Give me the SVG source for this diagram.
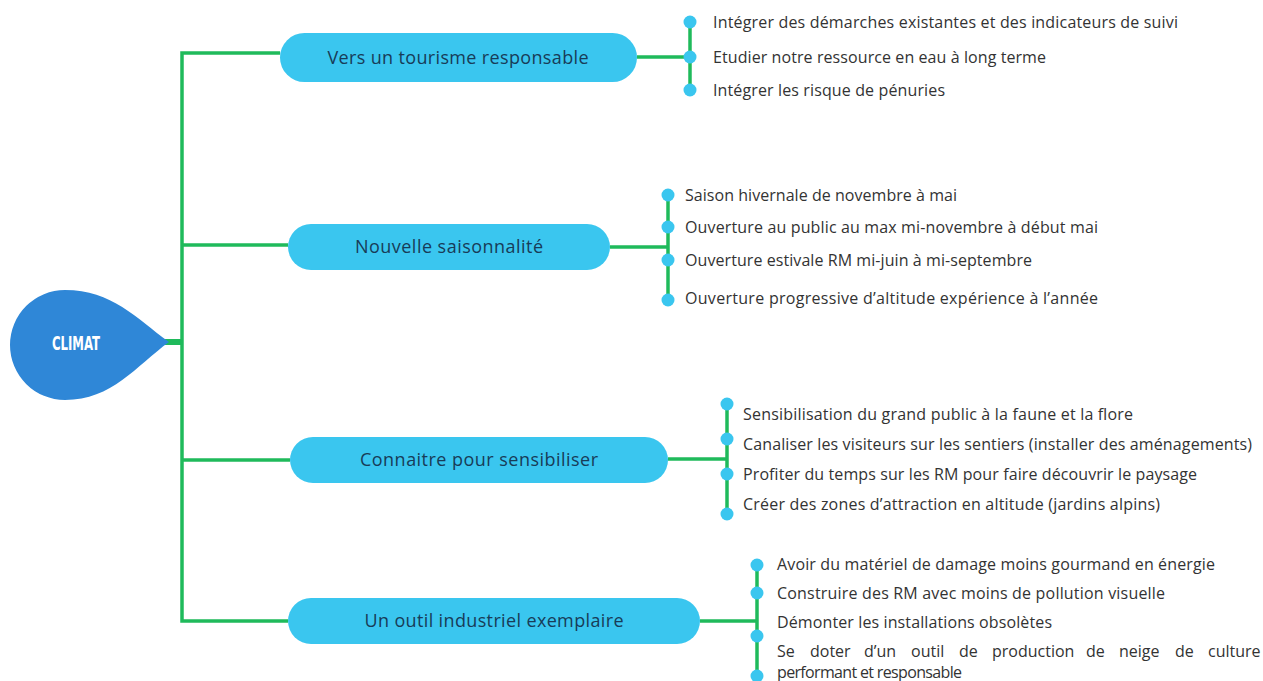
<svg xmlns="http://www.w3.org/2000/svg" width="1263" height="681" viewBox="0 0 1263 681">
<style>
.ln{stroke:#1fba5b;stroke-width:3.5;fill:none;stroke-linecap:butt}
.pill{fill:#3ac6ef}
.ptx{font-family:"Open Sans","Liberation Sans",sans-serif;font-size:18px;fill:#183c58;text-anchor:middle}
.dot{fill:#3ac6ef}
.lt{font-family:"Open Sans","Liberation Sans",sans-serif;font-size:16px;fill:#333}
</style>
<rect width="1263" height="681" fill="#fff"/>
<g id="connectors">
<line class="ln" x1="164" y1="342" x2="183" y2="342" style="stroke-width:6"/>
<polyline class="ln" points="280,53 182,53 182,621 288,621"/>
<line class="ln" x1="182" y1="245" x2="288" y2="245"/>
<line class="ln" x1="182" y1="460" x2="290" y2="460"/>
<line class="ln" x1="637" y1="57" x2="690" y2="57"/>
<line class="ln" x1="690" y1="22" x2="690" y2="90"/>
<line class="ln" x1="610" y1="247" x2="668" y2="247"/>
<line class="ln" x1="668" y1="195" x2="668" y2="300"/>
<line class="ln" x1="668" y1="459" x2="727" y2="459"/>
<line class="ln" x1="727" y1="404" x2="727" y2="514"/>
<line class="ln" x1="700" y1="621" x2="757" y2="621"/>
<line class="ln" x1="757" y1="565" x2="757" y2="676"/>
</g>
<g id="climat">
<path d="M169,342 C136,318 112,290 65,290 A55,55 0 0 0 65,400 C112,400 136,366 169,342 Z" fill="#2f87d7"/>
<text x="76" y="350" font-family="'DejaVu Sans Condensed','DejaVu Sans',sans-serif" font-weight="bold" font-size="20" fill="#fff" text-anchor="middle" textLength="48" lengthAdjust="spacingAndGlyphs">CLIMAT</text>
</g>
<g id="n1">
<rect class="pill" x="280" y="33" width="357" height="49" rx="24.5"/>
<text class="ptx" x="458" y="64" textLength="261">Vers un tourisme responsable</text>
</g>
<g id="n2">
<rect class="pill" x="288" y="224" width="322" height="46" rx="23"/>
<text class="ptx" x="449" y="253" textLength="188">Nouvelle saisonnalité</text>
</g>
<g id="n3">
<rect class="pill" x="290" y="437" width="378" height="46" rx="23"/>
<text class="ptx" x="479" y="466" textLength="238">Connaitre pour sensibiliser</text>
</g>
<g id="n4">
<rect class="pill" x="288" y="598" width="412" height="46" rx="23"/>
<text class="ptx" x="494" y="627" textLength="259">Un outil industriel exemplaire</text>
</g>
<g id="leaves1">
<circle class="dot" cx="690" cy="22" r="6.5"/><circle class="dot" cx="690" cy="57" r="6.5"/><circle class="dot" cx="690" cy="90" r="6.5"/>
<text class="lt" x="713" y="28" textLength="465">Intégrer des démarches existantes et des indicateurs de suivi</text>
<text class="lt" x="713" y="63" textLength="333">Etudier notre ressource en eau à long terme</text>
<text class="lt" x="713" y="96" textLength="232">Intégrer les risque de pénuries</text>
</g>
<g id="leaves2">
<circle class="dot" cx="668" cy="195" r="6.5"/><circle class="dot" cx="668" cy="227" r="6.5"/><circle class="dot" cx="668" cy="260" r="6.5"/><circle class="dot" cx="668" cy="300" r="6.5"/>
<text class="lt" x="685" y="201" textLength="272">Saison hivernale de novembre à mai</text>
<text class="lt" x="685" y="233" textLength="413">Ouverture au public au max mi-novembre à début mai</text>
<text class="lt" x="685" y="266" textLength="347">Ouverture estivale RM mi-juin à mi-septembre</text>
<text class="lt" x="685" y="304" textLength="413">Ouverture progressive d’altitude expérience à l’année</text>
</g>
<g id="leaves3">
<circle class="dot" cx="727" cy="404" r="6.5"/><circle class="dot" cx="727" cy="439" r="6.5"/><circle class="dot" cx="727" cy="474" r="6.5"/><circle class="dot" cx="727" cy="514" r="6.5"/>
<text class="lt" x="743" y="420" textLength="390">Sensibilisation du grand public à la faune et la flore</text>
<text class="lt" x="743" y="450" textLength="509">Canaliser les visiteurs sur les sentiers (installer des aménagements)</text>
<text class="lt" x="743" y="480" textLength="454">Profiter du temps sur les RM pour faire découvrir le paysage</text>
<text class="lt" x="743" y="510" textLength="417">Créer des zones d’attraction en altitude (jardins alpins)</text>
</g>
<g id="leaves4">
<circle class="dot" cx="757" cy="565" r="6.5"/><circle class="dot" cx="757" cy="593" r="6.5"/><circle class="dot" cx="757" cy="636" r="6.5"/><circle class="dot" cx="757" cy="676" r="6.5"/>
<text class="lt" x="777" y="570" textLength="438">Avoir du matériel de damage moins gourmand en énergie</text>
<text class="lt" x="777" y="599" textLength="388">Construire des RM avec moins de pollution visuelle</text>
<text class="lt" x="777" y="628" textLength="275">Démonter les installations obsolètes</text>
<text class="lt" y="657"><tspan x="777">Se</tspan><tspan x="810">doter</tspan><tspan x="864">d’un</tspan><tspan x="911">outil</tspan><tspan x="959">de</tspan><tspan x="992">production</tspan><tspan x="1086">de</tspan><tspan x="1119">neige</tspan><tspan x="1175">de</tspan><tspan x="1208">culture</tspan></text>
<text class="lt" x="777" y="678" textLength="185">performant et responsable</text>
</g>
</svg>
